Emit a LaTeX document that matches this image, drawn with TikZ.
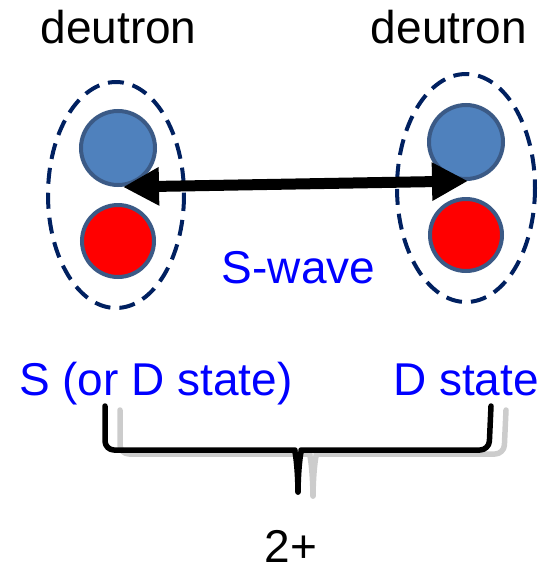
\documentclass[tikz,border=0pt]{standalone}
\usepackage{fontspec}
\setmainfont{Liberation Sans}
\usetikzlibrary{arrows.meta}
\definecolor{nucblue}{HTML}{4F81BD}
\definecolor{nucedge}{HTML}{3B5A86}
\definecolor{navy}{HTML}{002060}
\definecolor{shadowgray}{HTML}{CCCCCC}
\begin{document}
\begin{tikzpicture}[x=1pt,y=-1pt,
  txt/.style={inner sep=0pt,font=\fontsize{46}{50}\selectfont},
  bluetxt/.style={txt,text=blue},
  proton/.style={circle,draw=nucedge,line width=4pt,fill=nucblue,minimum size=74pt,inner sep=0pt},
  neutron/.style={circle,draw=nucedge,line width=4pt,fill=red,minimum size=72pt,inner sep=0pt},
  cloud/.style={draw=navy,line width=4pt,dash pattern=on 16pt off 9pt},
  bracepath/.style={line width=5.5pt,line join=round,line cap=round}]
\useasboundingbox (0,0) rectangle (543,573);

% deuteron envelopes
\draw[cloud] (116,195) ellipse [x radius=68,y radius=113];
\draw[cloud] (466,188) ellipse [x radius=69,y radius=114];

% nucleons
\node[proton]  (p1) at (118,148) {};
\node[neutron] (n1) at (118,241) {};
\node[proton]  (p2) at (466,142) {};
\node[neutron] (n2) at (466,235) {};

% relative motion between the two deuterons
\coordinate (a1) at (123,187);
\coordinate (a2) at (468,181);
\draw[line width=11pt,{Triangle[length=36pt,width=36pt]}-{Triangle[length=36pt,width=36pt]}] (a1) -- (a2);

% labels
\node[txt,anchor=base] (d1) at (118.5,43) {deutron};
\node[txt,anchor=base] (d2) at (449,43) {deutron};
\node[bluetxt,anchor=base] (sw) at (298.5,283) {S-wave};
\node[bluetxt,anchor=base west] (sl) at (19,395) {S (or D state)};
\node[bluetxt,anchor=base east] (sr) at (539,395) {D state};
\node[txt,anchor=base] (jp) at (291,562) {2+};

% coupling brace, drawn twice: light shadow first, then the black one
\foreach \dx/\dy/\col in {15/4/shadowgray,0/0/black}{
  \begin{scope}[shift={(\dx,\dy)}]
    \draw[bracepath,\col,rounded corners=9pt] (105,406) -- (105,450) -- (286,450)
      [sharp corners] .. controls (294,450) and (297.5,458) .. (298,492);
    \draw[bracepath,\col,rounded corners=9pt] (491,406) -- (489,450) -- (310,450)
      [sharp corners] .. controls (302,450) and (298.5,458) .. (298,492);
  \end{scope}
}
\end{tikzpicture}
\end{document}
